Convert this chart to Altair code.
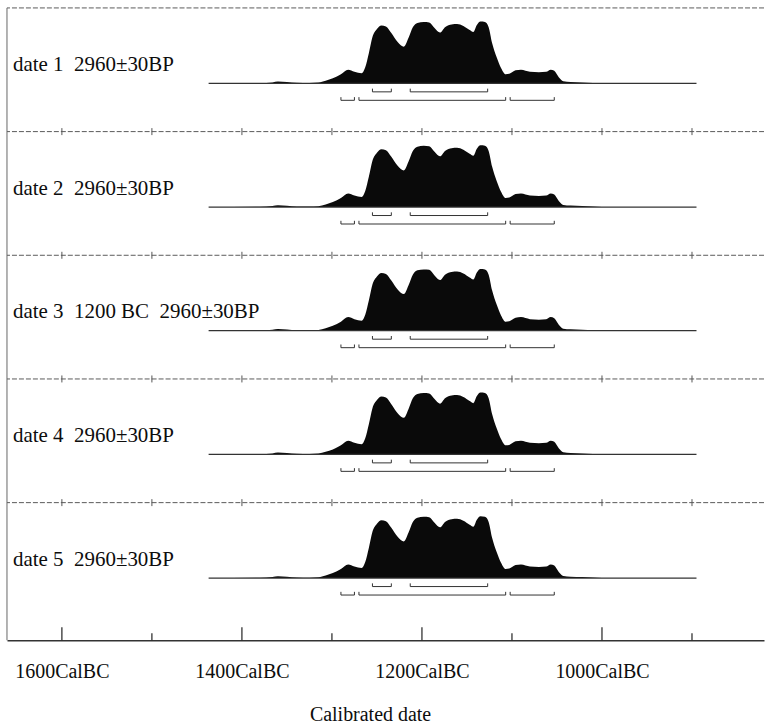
import altair as alt
import pandas as pd

# ---------------- data ----------------
# calibrated probability distribution (relative probability, max = 1)
years = [1437, 1380, 1366, 1360, 1350, 1339, 1325, 1315, 1307, 1299,
         1290, 1282, 1275, 1267, 1263, 1259, 1255, 1250, 1245, 1240,
         1234, 1227, 1220, 1215, 1210, 1205, 1198, 1192, 1186, 1180,
         1174, 1167, 1161, 1154, 1147, 1143, 1139, 1135, 1130, 1126,
         1122, 1117, 1112, 1107, 1103, 1096, 1090, 1080, 1070, 1062,
         1057, 1053, 1048, 1043, 1035, 1022, 1010, 1000, 990, 895]
prob = [0.000, 0.005, 0.016, 0.029, 0.021, 0.010, 0.007, 0.013, 0.041, 0.081,
        0.146, 0.220, 0.187, 0.163, 0.260, 0.488, 0.748, 0.878, 0.935, 0.919,
        0.813, 0.667, 0.593, 0.732, 0.911, 0.976, 0.992, 0.984, 0.894, 0.821,
        0.911, 0.951, 0.959, 0.927, 0.862, 0.829, 0.943, 1.000, 0.992, 0.911,
        0.650, 0.423, 0.244, 0.146, 0.154, 0.211, 0.220, 0.187, 0.179, 0.187,
        0.220, 0.203, 0.098, 0.033, 0.023, 0.016, 0.008, 0.002, 0.000, 0.000]

labels = ["date 1\u00a0 2960\u00b130BP",
          "date 2\u00a0 2960\u00b130BP",
          "date 3\u00a0 1200 BC\u00a0 2960\u00b130BP",
          "date 4\u00a0 2960\u00b130BP",
          "date 5\u00a0 2960\u00b130BP"]

# highest-probability ranges (68.2% upper row, 95.4% lower row)
hpd68_from = [1255, 1213]
hpd68_to = [1234, 1127]
hpd95_from = [1290, 1270, 1102]
hpd95_to = [1275, 1107, 1053]

curve_from, curve_to = 1437, 895

grid_years = [1600, 1500, 1400, 1300, 1200, 1100, 1000, 900]
major_years = [1600, 1400, 1200, 1000]
minor_years = [1500, 1300, 1100, 900]

# ---------------- layout / style ----------------
W, H = 759, 634
PANEL_PX = 124.0
Y_MAX = H / PANEL_PX
X_LEFT, X_RIGHT = 1661, 820
BASE = 0.61            # baseline position inside a panel (panel units)
AMP = 0.50             # height of max probability (panel units)
ROW_OFF = [8.5 / PANEL_PX, 17.0 / PANEL_PX]
HOOK = 3.2 / PANEL_PX
SEP_TICK = 3.5 / PANEL_PX
MAJOR_LEN = 13 / PANEL_PX
MINOR_LEN = 7 / PANEL_PX
FONT = "Liberation Serif"
INK = "#0d0d0d"

n = len(labels)
panels = list(range(n))

curve_df = pd.DataFrame([{"panel": p, "year": y, "prob": v}
                         for p in panels for y, v in zip(years, prob)])
base_df = pd.DataFrame({"panel": panels, "start": [curve_from] * n, "end": [curve_to] * n})

br_rows = []
for p in panels:
    for s, e in zip(hpd68_from, hpd68_to):
        br_rows.append({"panel": p, "row": 0, "start": s, "end": e})
    for s, e in zip(hpd95_from, hpd95_to):
        br_rows.append({"panel": p, "row": 1, "start": s, "end": e})
br_df = pd.DataFrame(br_rows)
hook_df = pd.DataFrame([{"panel": r["panel"], "row": r["row"], "year": yv}
                        for r in br_rows for yv in (r["start"], r["end"])])

label_df = pd.DataFrame({"panel": panels, "label": labels})
sep_df = pd.DataFrame({"level": [0] + [p for p in panels[1:]]})
sep_tick_df = pd.DataFrame([{"level": l, "year": g} for l in panels[1:] for g in grid_years])
axis_tick_df = pd.DataFrame({"year": major_years + minor_years,
                             "len": [MAJOR_LEN] * len(major_years) + [MINOR_LEN] * len(minor_years)})
border_df = pd.DataFrame({"year": [X_LEFT]})

x_scale = alt.Scale(domain=[X_RIGHT, X_LEFT], reverse=True, nice=False, zero=False)
y_scale = alt.Scale(domain=[0, Y_MAX], reverse=True, nice=False, zero=False)

x_axis = alt.Axis(values=major_years, labelExpr="datum.value + 'CalBC'",
                  tickSize=0, labelPadding=21, labelFont=FONT, labelFontSize=20,
                  labelColor=INK, labelFlush=False, labelOverlap=False,
                  domainColor="#333333", domainWidth=1.5, grid=False,
                  title="Calibrated date", titleFont=FONT, titleFontSize=20,
                  titleFontWeight="normal", titleColor=INK, titleX=364, titleY=80,
                  titleBaseline="alphabetic", titleAlign="center")


def X(field):
    return alt.X(field, scale=x_scale, axis=x_axis)


def Y(field):
    return alt.Y(field, scale=y_scale, axis=None)


# separators (top line + panel separators)
seps = alt.Chart(sep_df).mark_rule(color="#5a5a5a", strokeWidth=1, strokeDash=[5, 2]).encode(
    y=Y("level:Q"))

sep_ticks = alt.Chart(sep_tick_df).transform_calculate(
    y0=f"datum.level - {SEP_TICK}", y1=f"datum.level + {SEP_TICK}"
).mark_rule(color="#555555", strokeWidth=1).encode(
    x=X("year:Q"), y=Y("y0:Q"), y2="y1:Q")

border = alt.Chart(border_df).mark_rule(color="#666666", strokeWidth=1).encode(
    x=X("year:Q"))

axis_ticks = alt.Chart(axis_tick_df).transform_calculate(
    y0=f"{Y_MAX}", y1=f"{Y_MAX} - datum.len"
).mark_rule(color="#222222", strokeWidth=1.2).encode(
    x=X("year:Q"), y=Y("y0:Q"), y2="y1:Q")

baselines = alt.Chart(base_df).transform_calculate(
    yb=f"datum.panel + {BASE}"
).mark_rule(color="#333333", strokeWidth=1.2).encode(
    x=X("start:Q"), x2="end:Q", y=Y("yb:Q"))

areas = alt.Chart(curve_df).transform_calculate(
    yb=f"datum.panel + {BASE}", yt=f"datum.panel + {BASE} - datum.prob * {AMP}"
).mark_area(color="#0a0a0a", interpolate="monotone").encode(
    x=X("year:Q"), y=Y("yb:Q"), y2="yt:Q", detail="panel:N")

brackets = alt.Chart(br_df).transform_calculate(
    yr=f"datum.panel + {BASE} + (datum.row == 0 ? {ROW_OFF[0]} : {ROW_OFF[1]})"
).mark_rule(color="#333333", strokeWidth=1).encode(
    x=X("start:Q"), x2="end:Q", y=Y("yr:Q"))

hooks = alt.Chart(hook_df).transform_calculate(
    yr=f"datum.panel + {BASE} + (datum.row == 0 ? {ROW_OFF[0]} : {ROW_OFF[1]})",
    yh=f"datum.panel + {BASE} + (datum.row == 0 ? {ROW_OFF[0]} : {ROW_OFF[1]}) - {HOOK}"
).mark_rule(color="#333333", strokeWidth=1).encode(
    x=X("year:Q"), y=Y("yr:Q"), y2="yh:Q")

texts = alt.Chart(label_df).transform_calculate(
    yl="datum.panel + 0.462"
).mark_text(align="left", baseline="middle", font=FONT, fontSize=21, color=INK).encode(
    x=alt.value(6), y=Y("yl:Q"), text="label:N")

chart = alt.layer(
    areas, seps, sep_ticks, border, baselines, brackets, hooks, axis_ticks, texts
).properties(
    width=W, height=H,
    padding={"left": 6, "top": 6, "right": 0, "bottom": 0},
    background="white",
).configure_view(strokeWidth=0)

chart.save("out.html", embed_options={"renderer": "svg", "actions": False})
